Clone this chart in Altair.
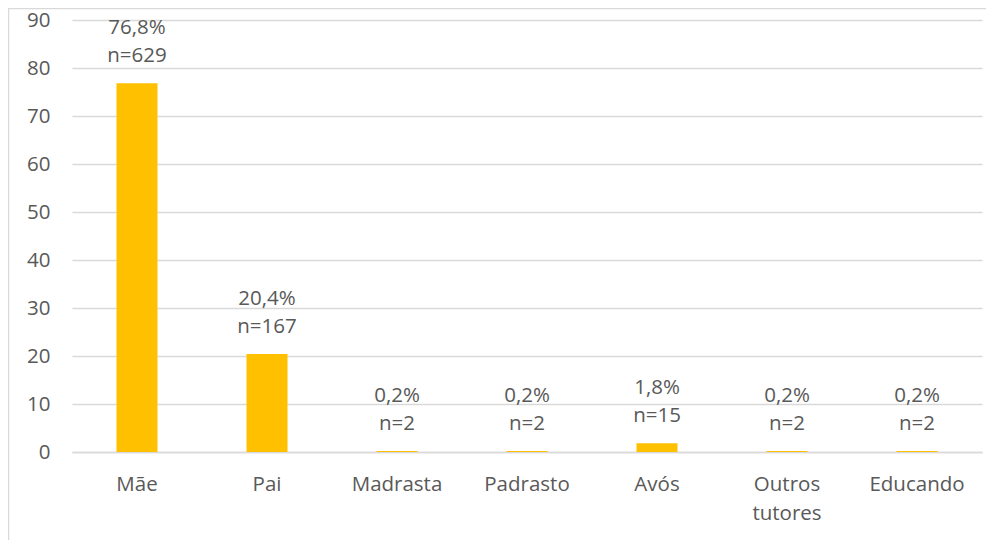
import altair as alt
import pandas as pd

categories = ["Mãe", "Pai", "Madrasta", "Padrasto", "Avós", "Outros tutores", "Educando"]
values = [76.8, 20.4, 0.2, 0.2, 1.8, 0.2, 0.2]
counts = [629, 167, 2, 2, 15, 2, 2]
pct_labels = ["76,8%", "20,4%", "0,2%", "0,2%", "1,8%", "0,2%", "0,2%"]

df = pd.DataFrame({
    "cat": categories,
    "val": values,
    "pct": pct_labels,
    "n": ["n=" + str(c) for c in counts],
})

FONT = "Open Sans"
FS = 20.5
GRAY = "#595959"
GRID = "#d9d9d9"

x = alt.X("cat:N", sort=categories, title=None,
          scale=alt.Scale(paddingInner=0, paddingOuter=0),
          axis=alt.Axis(labelAngle=0, ticks=False, domainColor=GRID, domainWidth=1.3,
                        labelPadding=22, labelFontSize=FS, labelColor=GRAY, labelFont=FONT,
                        labelLineHeight=29, labelBaseline="top",
                        labelExpr="split(datum.label, ' ')"))
y = alt.Y("val:Q", title=None,
          scale=alt.Scale(domain=[0, 90], nice=False),
          axis=alt.Axis(values=list(range(0, 100, 10)), ticks=False, domain=False,
                        gridColor=GRID, gridWidth=1.3, labelPadding=22,
                        labelFontSize=FS, labelColor=GRAY, labelFont=FONT))

base = alt.Chart(df)

bars = base.mark_bar(color="#FFC000", size=41).encode(x=x, y=y)

pct_text = base.mark_text(baseline="middle", dy=-55, fontSize=FS, color=GRAY, font=FONT).encode(
    x=alt.X("cat:N", sort=categories), y="val:Q", text="pct:N")
n_text = base.mark_text(baseline="middle", dy=-27, fontSize=FS, color=GRAY, font=FONT).encode(
    x=alt.X("cat:N", sort=categories), y="val:Q", text="n:N")

frame = alt.Chart(alt.Data(values=[{}])).mark_rect(
    fill=None, stroke=GRID, strokeWidth=1.5
).encode(x=alt.value(-63.5), x2=alt.value(940), y=alt.value(-11.5), y2=alt.value(700))

chart = alt.layer(frame, bars, pct_text, n_text).properties(
    width=910, height=432,
    autosize=alt.AutoSizeParams(type="none"),
    padding={"left": 64, "top": 12, "right": 4, "bottom": 88},
).configure_view(stroke=None)

chart.save("out.html", embed_options={"renderer": "svg", "actions": False})
